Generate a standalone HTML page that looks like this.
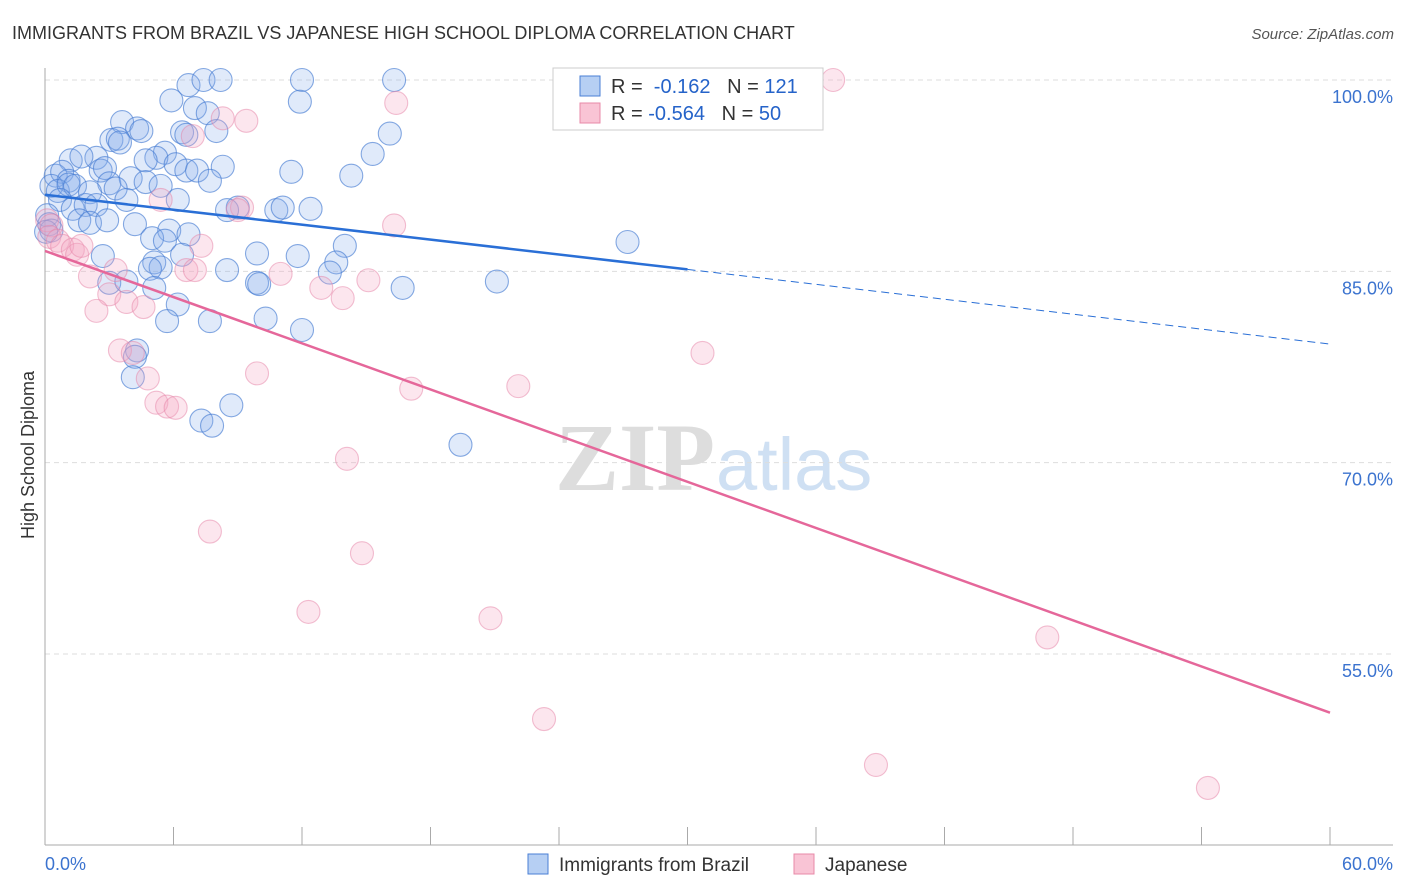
<!DOCTYPE html>
<html><head><meta charset="utf-8"><style>
body{margin:0;background:#fff;font-family:"Liberation Sans",sans-serif;}
svg{display:block}
</style></head><body>
<svg id="chart" width="1406" height="892" xmlns="http://www.w3.org/2000/svg">
<text x="12" y="39" font-size="18" fill="#333">IMMIGRANTS FROM BRAZIL VS JAPANESE HIGH SCHOOL DIPLOMA CORRELATION CHART</text>
<text x="1394" y="39" font-size="15" fill="#555" font-style="italic" text-anchor="end">Source: ZipAtlas.com</text>
<g>
<text x="555" y="490" font-size="96" font-family="Liberation Serif,serif" fill="#ddd" font-weight="bold">ZIP</text>
<text x="716" y="490" font-size="74" fill="#cfe0f3">atlas</text>
</g>
<g id="grid"></g>
<g id="axes"></g>
<g id="marks"></g>
<text transform="translate(34,455) rotate(-90)" font-size="18" fill="#333" text-anchor="middle">High School Diploma</text>
<g>
<rect x="553" y="68" width="270" height="62" fill="#fff" stroke="#ccc"/>
<rect x="580" y="76" width="20" height="20" fill="#b6cff3" stroke="#4a7fd6"/>
<rect x="580" y="103" width="20" height="20" fill="#f9c4d5" stroke="#e88aa8"/>
<text x="611" y="93" font-size="20" fill="#333">R = <tspan fill="#2563c9">&#160;-0.162</tspan>&#160;&#160;&#160;N = <tspan fill="#2563c9">121</tspan></text>
<text x="611" y="120" font-size="20" fill="#333">R = <tspan fill="#2563c9">-0.564</tspan>&#160;&#160;&#160;N = <tspan fill="#2563c9">50</tspan></text>
</g>
<g>
<rect x="528" y="854" width="20" height="20" fill="#b6cff3" stroke="#4a7fd6"/>
<text x="559" y="871" font-size="19" fill="#333">Immigrants from Brazil</text>
<rect x="794" y="854" width="20" height="20" fill="#f9c4d5" stroke="#e88aa8"/>
<text x="825" y="871" font-size="19" fill="#333">Japanese</text>
</g>
</svg>
<script>
const yTicks=[100,85,70,55];
const yTickLabels=["100.0%","85.0%","70.0%","55.0%"];
const xTickLabels=["0.0%","60.0%"];
const brazilX=[6.7,7.4,8.2,12.0,16.3,5.9,11.9,7.0,7.6,3.6,4.3,4.5,8.0,6.4,6.6,16.1,3.1,3.4,3.5,5.6,15.3,1.2,2.4,1.7,5.2,4.7,6.1,8.3,6.6,7.1,11.5,14.3,0.5,0.8,1.1,2.6,2.8,3.0,4.0,4.7,5.4,7.7,0.3,0.6,1.1,1.4,2.1,3.3,6.2,0.7,1.3,1.9,2.4,3.8,9.0,8.5,10.8,11.1,12.4,1.6,2.1,2.9,4.2,5.8,6.7,5.0,5.6,14.0,27.2,2.7,9.9,11.8,6.4,5.1,5.4,4.9,13.6,13.3,8.5,9.9,10.0,16.7,21.1,3.0,3.8,5.1,6.2,5.7,7.7,10.3,12.0,4.3,4.2,4.1,8.7,7.3,7.8,19.4,0.1,0.2,0.3,0.05];
const brazilY=[99.6,100,100,100,100,98.4,98.3,97.8,97.4,96.7,96.2,96.0,96.0,95.9,95.7,95.8,95.3,95.4,95.1,94.3,94.2,93.7,93.9,94.0,93.9,93.7,93.4,93.2,92.9,92.9,92.8,92.5,92.5,92.8,92.1,92.9,93.1,91.9,92.3,92.0,91.7,92.1,91.7,91.3,91.8,91.7,91.2,91.5,90.6,90.6,89.9,90.2,90.2,90.6,90.0,89.8,89.8,90.0,89.9,89.0,88.8,89.0,88.7,88.2,87.9,87.6,87.4,87.0,87.3,86.2,86.4,86.2,86.3,85.7,85.3,85.2,85.7,84.9,85.1,84.1,84.0,83.7,84.2,84.1,84.2,83.7,82.4,81.1,81.1,81.3,80.4,78.8,78.3,76.7,74.5,73.3,72.9,71.4,89.4,88.7,88.2,88.1];
const japX=[36.8,16.4,8.3,9.4,6.9,5.4,9.2,9.0,16.3,0.1,0.3,0.2,0.6,0.8,1.3,1.5,1.7,2.1,3.3,7.3,6.6,7.0,11.0,12.9,13.9,15.1,3.0,3.8,4.6,2.4,3.5,4.1,4.8,5.2,5.7,6.1,9.9,17.1,22.1,30.7,14.1,7.7,14.8,12.3,20.8,46.8,23.3,38.8,54.3];
const japY=[100,98.2,97.0,96.8,95.6,90.6,90.0,89.8,88.6,89.0,88.6,87.7,87.4,87.0,86.7,86.3,87.0,84.6,85.1,87.0,85.1,85.1,84.8,83.7,82.9,84.3,83.2,82.6,82.2,81.9,78.8,78.6,76.6,74.7,74.4,74.3,77.0,75.8,76.0,78.6,70.3,64.6,62.9,58.3,57.8,56.3,49.9,46.3,44.5];
const brazilTrend=[91.0,79.3];
const japTrend=[86.6,50.4];
const NS="http://www.w3.org/2000/svg";
const X0=45,X1=1330,Ytop=80,Ybot=654;
function sx(v){return X0+(X1-X0)*v/60;}
function sy(v){return Ytop+(Ybot-Ytop)*(100-v)/45;}
function mk(tag,attrs,parent){const e=document.createElementNS(NS,tag);for(const k in attrs)e.setAttribute(k,attrs[k]);parent.appendChild(e);return e;}
const grid=document.getElementById('grid'),axes=document.getElementById('axes'),marks=document.getElementById('marks');
yTicks.forEach((t,i)=>{
 const l=mk('line',{x1:X0,x2:1393,y1:sy(t),y2:sy(t),stroke:'#ddd','stroke-dasharray':'5,4'},grid);
 
 
 const tx=mk('text',{x:1393,y:sy(t)+23,'font-size':18,fill:'#3b73cf','text-anchor':'end'},axes);
 tx.textContent=yTickLabels[i];
 
 
});
const ax=mk('line',{x1:X0,x2:X0,y1:68,y2:845,stroke:'#aaa'},axes);


const bx=mk('line',{x1:X0,x2:1393,y1:845,y2:845,stroke:'#aaa'},axes);


for(let i=1;i<=10;i++){
 const t=mk('line',{x1:sx(i*6),x2:sx(i*6),y1:827,y2:845,stroke:'#aaa'},axes);
 
 
}
[[0,'start',45],[60,'end',1393]].forEach((d,i)=>{
 const t=mk('text',{x:d[2],y:870,'font-size':18,fill:'#3b73cf','text-anchor':d[1]},axes);
 t.textContent=xTickLabels[i];
 
 
});
function dots(xs,ys,fill,stroke,name){
 xs.forEach((x,i)=>{
  const c=mk('circle',{cx:sx(x),cy:sy(ys[i]),r:11.5,fill:fill,stroke:stroke,'stroke-width':1.1},marks);
  
  
 });
}
dots(brazilX,brazilY,'rgba(130,170,235,0.25)','rgba(70,125,210,0.65)','brazil-point');
dots(japX,japY,'rgba(245,165,195,0.28)','rgba(230,130,165,0.5)','japanese-point');
const bm=brazilTrend[0]+(brazilTrend[1]-brazilTrend[0])*0.5;
const l1=mk('line',{x1:sx(0),y1:sy(brazilTrend[0]),x2:sx(30),y2:sy(bm),stroke:'#2a6fd6','stroke-width':2.5},marks);


const l2=mk('line',{x1:sx(30),y1:sy(bm),x2:sx(60),y2:sy(brazilTrend[1]),stroke:'#2a6fd6','stroke-width':1,'stroke-dasharray':'8,5'},marks);


const l3=mk('line',{x1:sx(0),y1:sy(japTrend[0]),x2:sx(60),y2:sy(japTrend[1]),stroke:'#e5679a','stroke-width':2.5},marks);


</script>
</body></html>
